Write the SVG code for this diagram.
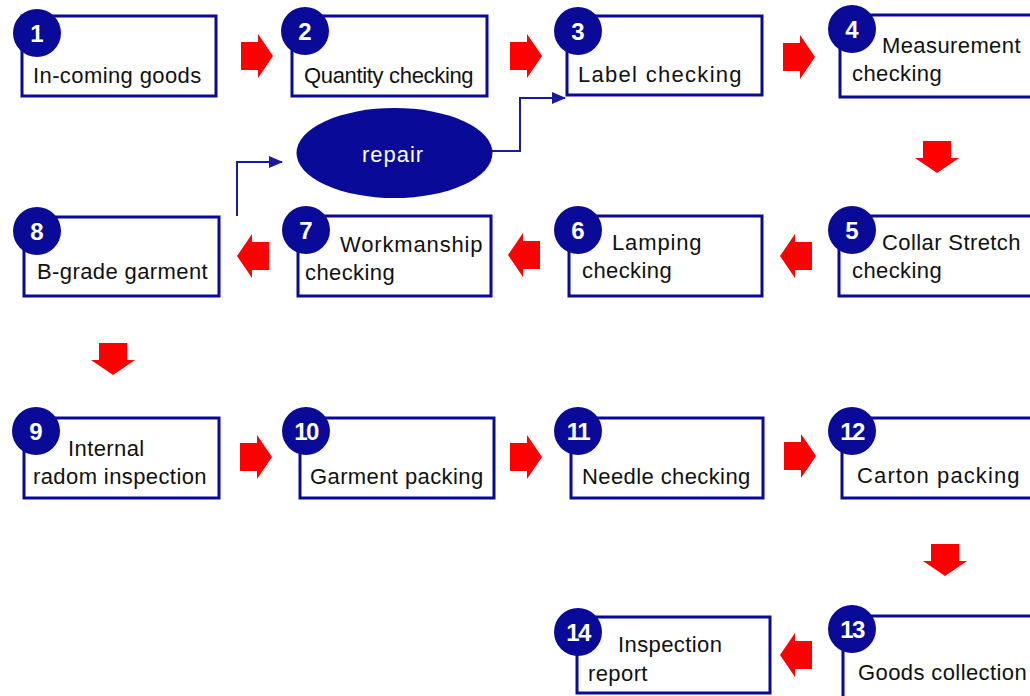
<svg xmlns="http://www.w3.org/2000/svg" xmlns:xlink="http://www.w3.org/1999/xlink" width="1030" height="696" viewBox="0 0 1030 696">
<defs>
<style>
.box{fill:#fff;stroke:#0a0a99;stroke-width:3}
.num{fill:#0a0a99}
.nt{fill:#fff;font-family:"Liberation Sans",Arial,sans-serif;font-weight:bold;font-size:24px;text-anchor:middle}
.t{fill:#111;font-family:"Liberation Sans",Arial,sans-serif;font-size:22px;letter-spacing:0.4px}
.arr{fill:#ff0000}
.con{fill:none;stroke:#1a1aa0;stroke-width:2}
</style>
<path id="ar" d="M-16,-14 H1 V-22 L16,0 L1,22 V14 H-16 Z"/>
<marker id="mh" markerWidth="14" markerHeight="12" refX="13" refY="6" orient="auto" markerUnits="userSpaceOnUse">
<path d="M0,0 L14,6 L0,12 Z" fill="#1a1aa0"/>
</marker>
</defs>
<rect width="1030" height="696" fill="#fff"/>

<g id="connectors">
<path class="con" d="M492,151 H520 V98 H565" marker-end="url(#mh)"/>
<path class="con" d="M237,216 V162 H282" marker-end="url(#mh)"/>
<g class="arr">
<use xlink:href="#ar" transform="translate(257,56)"/>
<use xlink:href="#ar" transform="translate(526,56)"/>
<use xlink:href="#ar" transform="translate(799,57)"/>
<use xlink:href="#ar" transform="translate(937,157) rotate(90)"/>
<use xlink:href="#ar" transform="translate(796,256) rotate(180)"/>
<use xlink:href="#ar" transform="translate(524,255) rotate(180)"/>
<use xlink:href="#ar" transform="translate(253,256) rotate(180)"/>
<use xlink:href="#ar" transform="translate(113,359) rotate(90)"/>
<use xlink:href="#ar" transform="translate(256,457)"/>
<use xlink:href="#ar" transform="translate(526,457)"/>
<use xlink:href="#ar" transform="translate(800,456)"/>
<use xlink:href="#ar" transform="translate(945,560) rotate(90)"/>
<use xlink:href="#ar" transform="translate(796,655) rotate(180)"/>
</g>
</g>

<g id="repair">
<ellipse cx="394.5" cy="153" rx="98" ry="45" fill="#0a0a99"/>
<text x="393" y="162" fill="#fff" font-family="Liberation Sans,Arial,sans-serif" font-size="22" text-anchor="middle" letter-spacing="1">repair</text>
</g>

<g id="n1">
<rect class="box" x="22" y="16" width="194" height="80"/>
<circle class="num" cx="37" cy="33" r="24"/><text class="nt" x="37" y="42">1</text>
<text class="t" x="33" y="83">In-coming goods</text>
</g>
<g id="n2">
<rect class="box" x="292" y="16" width="195" height="80"/>
<circle class="num" cx="305" cy="31" r="24"/><text class="nt" x="305" y="40">2</text>
<text class="t" x="304" y="83" textLength="170" lengthAdjust="spacing">Quantity checking</text>
</g>
<g id="n3">
<rect class="box" x="567" y="16" width="195" height="79"/>
<circle class="num" cx="578" cy="31" r="24"/><text class="nt" x="578" y="40">3</text>
<text class="t" x="578" y="82" textLength="164" lengthAdjust="spacing">Label checking</text>
</g>
<g id="n4">
<rect class="box" x="840" y="15" width="196" height="82"/>
<circle class="num" cx="852" cy="29" r="24"/><text class="nt" x="852" y="38">4</text>
<text class="t" x="882" y="53">Measurement</text>
<text class="t" x="852" y="81">checking</text>
</g>
<g id="n5">
<rect class="box" x="839" y="216" width="196" height="80"/>
<circle class="num" cx="852" cy="230" r="24"/><text class="nt" x="852" y="239">5</text>
<text class="t" x="882" y="250">Collar Stretch</text>
<text class="t" x="852" y="278">checking</text>
</g>
<g id="n6">
<rect class="box" x="569" y="216" width="193" height="80"/>
<circle class="num" cx="578" cy="230" r="24"/><text class="nt" x="578" y="239">6</text>
<text class="t" x="612" y="250" textLength="90" lengthAdjust="spacing">Lamping</text>
<text class="t" x="582" y="278">checking</text>
</g>
<g id="n7">
<rect class="box" x="298" y="216" width="193" height="80"/>
<circle class="num" cx="306" cy="230" r="24"/><text class="nt" x="306" y="239">7</text>
<text class="t" x="340" y="252" textLength="143" lengthAdjust="spacing">Workmanship</text>
<text class="t" x="305" y="280">checking</text>
</g>
<g id="n8">
<rect class="box" x="24" y="217" width="195" height="79"/>
<circle class="num" cx="37" cy="231" r="24"/><text class="nt" x="37" y="240">8</text>
<text class="t" x="37" y="279">B-grade garment</text>
</g>
<g id="n9">
<rect class="box" x="24" y="418" width="195" height="80"/>
<circle class="num" cx="36" cy="431" r="24"/><text class="nt" x="36" y="440">9</text>
<text class="t" x="68" y="456">Internal</text>
<text class="t" x="33" y="484">radom inspection</text>
</g>
<g id="n10">
<rect class="box" x="300" y="418" width="194" height="80"/>
<circle class="num" cx="306" cy="431" r="24"/><text class="nt" x="306" y="440" letter-spacing="-1.5">10</text>
<text class="t" x="310" y="484">Garment packing</text>
</g>
<g id="n11">
<rect class="box" x="571" y="418" width="192" height="80"/>
<circle class="num" cx="578" cy="431" r="24"/><text class="nt" x="578" y="440" letter-spacing="-1.5">11</text>
<text class="t" x="582" y="484">Needle checking</text>
</g>
<g id="n12">
<rect class="box" x="842" y="418" width="194" height="80"/>
<circle class="num" cx="852" cy="431" r="24"/><text class="nt" x="852" y="440" letter-spacing="-1.5">12</text>
<text class="t" x="857" y="483" textLength="163" lengthAdjust="spacing">Carton packing</text>
</g>
<g id="n13">
<rect class="box" x="843" y="616" width="194" height="84"/>
<circle class="num" cx="852" cy="629" r="24"/><text class="nt" x="852" y="638" letter-spacing="-1.5">13</text>
<text class="t" x="858" y="680">Goods collection</text>
</g>
<g id="n14">
<rect class="box" x="577" y="617" width="193" height="76"/>
<circle class="num" cx="578" cy="632" r="24"/><text class="nt" x="578" y="641" letter-spacing="-1.5">14</text>
<text class="t" x="618" y="652">Inspection</text>
<text class="t" x="588" y="681">report</text>
</g>
</svg>
